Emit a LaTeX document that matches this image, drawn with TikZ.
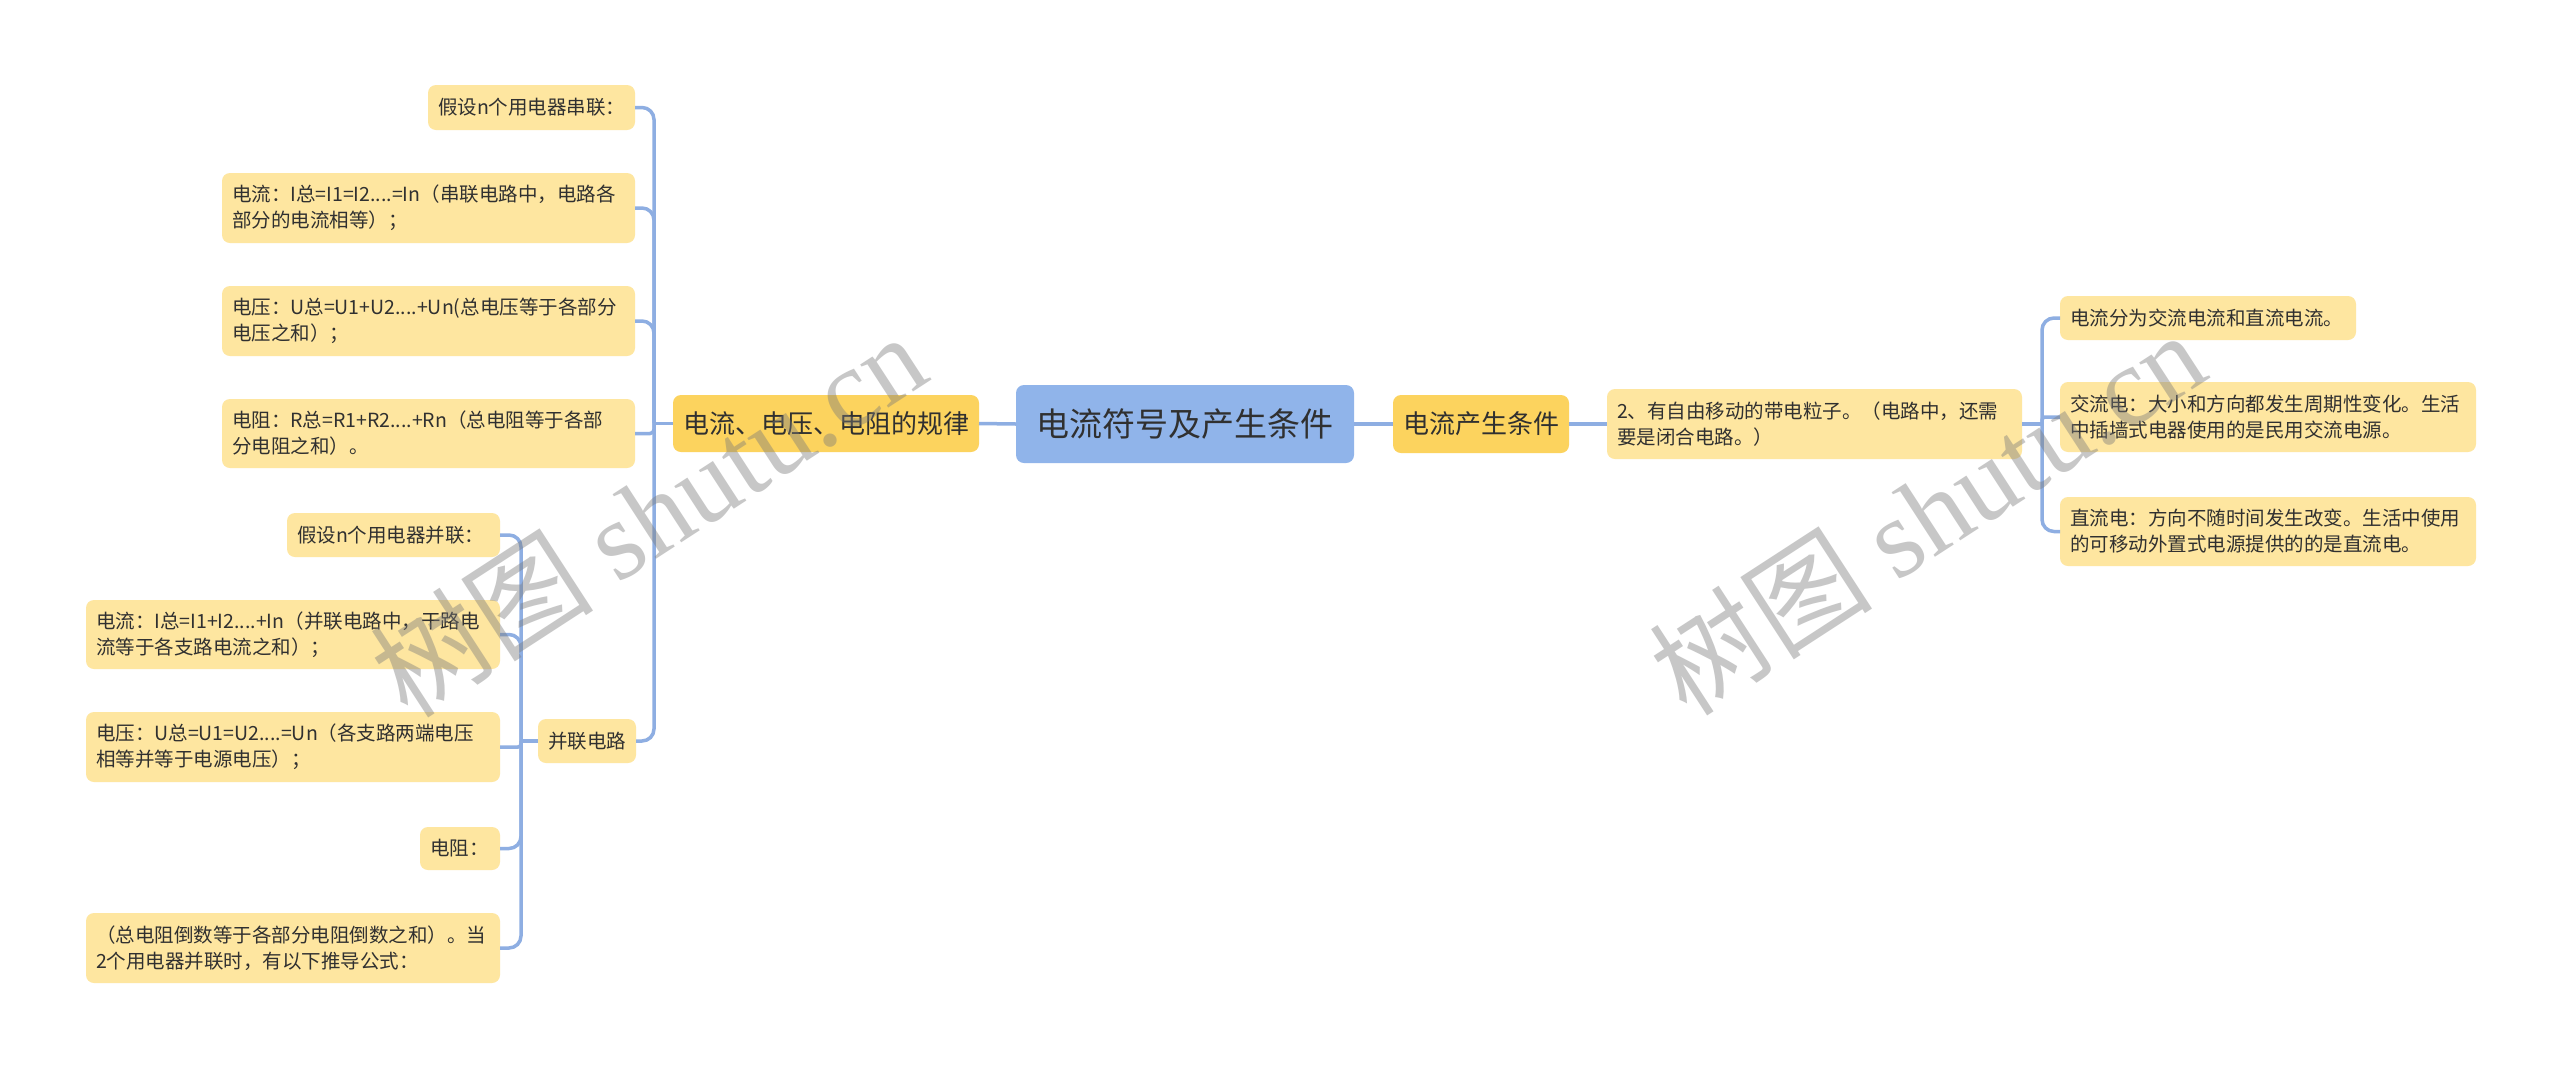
\documentclass[tikz,border=0pt]{standalone}
\usepackage{fontspec}
\setmainfont{Noto Sans CJK SC}
\newfontfamily\wmserif{Liberation Serif}
\usetikzlibrary{calc}
\definecolor{rootc}{HTML}{90B4EA}
\definecolor{mainc}{HTML}{FCD35E}
\definecolor{leafc}{HTML}{FEE6A0}
\definecolor{linec}{HTML}{8EAEE2}
\definecolor{txtc}{HTML}{303030}
\definecolor{wmc}{HTML}{7A7A7A}
\begin{document}
\begin{tikzpicture}[x=1pt,y=-1pt,
 nbox/.style={rounded corners=8pt, draw=none, text=txtc, inner xsep=10pt, inner ysep=0pt, outer sep=0pt},
 leaf/.style={nbox, fill=leafc, align=left, font=\fontsize{19.5}{26}\selectfont},
 leafc/.style={nbox, fill=leafc, align=center, font=\fontsize{19.5}{26}\selectfont},
 mainn/.style={nbox, fill=mainc, align=center, font=\fontsize{26}{30}\selectfont},
 rootn/.style={nbox, fill=rootc, align=center, font=\fontsize{33}{38}\selectfont},
 conn/.style={draw=linec, line width=3.5pt},
 elbow/.style={conn, rounded corners=12pt},
 wmark/.style={rotate=33, text=wmc, opacity=.42, inner sep=0pt},
]
\useasboundingbox[fill=white] (0,0) rectangle (2560,1069);

% root and level 1
\node[rootn, minimum width=338pt, minimum height=78pt, anchor=north west] (root) at (1016,385) {电流符号及产生条件};
\node[mainn, minimum width=305pt, minimum height=57pt, anchor=north west] (L1) at (673,395) {电流、电压、电阻的规律};
\node[mainn, minimum width=176pt, minimum height=58pt, anchor=north west] (R1) at (1393,395) {电流产生条件};

% left children
\node[leaf, text width=187pt, minimum height=45pt, anchor=north east] (c1) at (635,85) {假设n个用电器串联：};
\node[leaf, text width=393pt, minimum height=70pt, anchor=north east] (c2) at (635,173) {电流：I总=I1=I2....=In（串联电路中，电路各\\部分的电流相等）；};
\node[leaf, text width=393pt, minimum height=70pt, anchor=north east] (c3) at (635,286) {电压：U总=U1+U2....+Un(总电压等于各部分\\电压之和）；};
\node[leaf, text width=393pt, minimum height=69pt, anchor=north east] (c4) at (635,399) {电阻：R总=R1+R2....+Rn（总电阻等于各部\\分电阻之和）。};
\node[leafc, minimum width=98pt, minimum height=44pt, anchor=north east] (p) at (636,719) {并联电路};

\node[leaf, text width=193pt, minimum height=44pt, anchor=north east] (p1) at (500,513) {假设n个用电器并联：};
\node[leaf, text width=394pt, minimum height=69pt, anchor=north east] (p2) at (500,600) {电流：I总=I1+I2....+In（并联电路中，干路电\\流等于各支路电流之和）；};
\node[leaf, text width=394pt, minimum height=70pt, anchor=north east] (p3) at (500,712) {电压：U总=U1=U2....=Un（各支路两端电压\\相等并等于电源电压）；};
\node[leaf, text width=60pt, minimum height=43pt, anchor=north east] (p4) at (500,827) {电阻：};
\node[leaf, text width=394pt, minimum height=70pt, anchor=north east] (p5) at (500,913) {（总电阻倒数等于各部分电阻倒数之和）。当\\2个用电器并联时，有以下推导公式：};

% right children
\node[leaf, text width=395pt, minimum height=70pt, anchor=north west] (R2) at (1607,389) {2、有自由移动的带电粒子。（电路中，还需\\要是闭合电路。）};
\node[leaf, text width=276pt, minimum height=44pt, anchor=north west] (R3a) at (2060,296) {电流分为交流电流和直流电流。};
\node[leaf, text width=396pt, minimum height=70pt, anchor=north west] (R3b) at (2060,382) {交流电：大小和方向都发生周期性变化。生活\\中插墙式电器使用的是民用交流电源。};
\node[leaf, text width=396pt, minimum height=69pt, anchor=north west] (R3c) at (2060,497) {直流电：方向不随时间发生改变。生活中使用\\的可移动外置式电源提供的的是直流电。};

% connectors
\draw[conn] (root.west) -- (L1.east);
\draw[conn] (root.east) -- (R1.west);
\draw[conn] (R1.east) -- (R2.west);

\coordinate (jL) at ($(L1.west)+(-19,0)$);
\draw[conn] (L1.west) -- (jL);
\foreach \n in {c1,c2,c3,p} \draw[elbow] (jL) |- (\n.east);
\draw[conn, rounded corners=4pt] (jL) |- (c4.east);

\coordinate (jP) at ($(p.west)+(-17,0)$);
\draw[conn] (p.west) -- (jP);
\foreach \n in {p1,p2,p4,p5} \draw[elbow] (jP) |- (\n.east);
\draw[conn, rounded corners=3pt] (jP) |- (p3.east);

\coordinate (jR) at ($(R2.east)+(20,0)$);
\draw[conn] (R2.east) -- (jR);
\foreach \n in {R3a,R3c} \draw[elbow] (jR) |- (\n.west);
\draw[conn, rounded corners=3pt] (jR) |- (R3b.west);

% watermarks
\node[wmark] (wm1) at (648,514) {\fontsize{112}{112}\selectfont 树图 {\wmserif shutu.cn}};
\node[wmark] (wm2) at (1927,512) {\fontsize{112}{112}\selectfont 树图 {\wmserif shutu.cn}};
\end{tikzpicture}
\end{document}
